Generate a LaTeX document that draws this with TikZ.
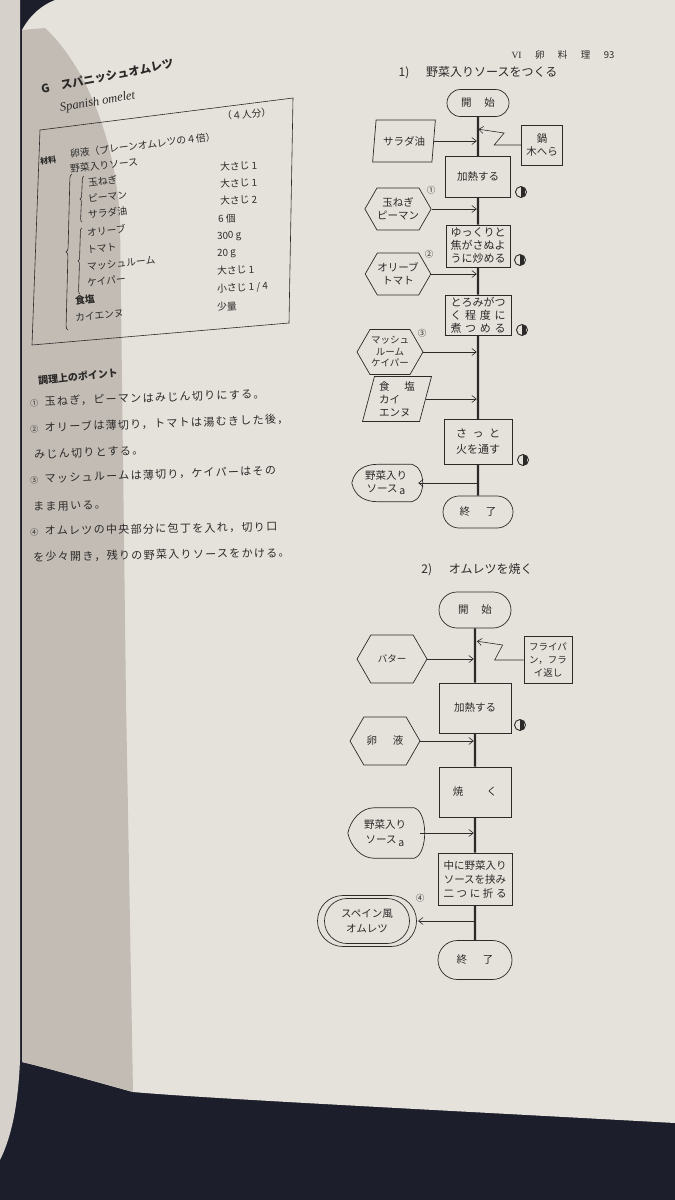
\documentclass[tikz,border=0pt]{standalone}
\usepackage{fontspec}
\setmainfont{Liberation Serif}
\newfontfamily\jp{Noto Sans CJK JP}
\newfontfamily\jpw{Noto Sans CJK JP}[LetterSpace=12]
\usetikzlibrary{shapes.geometric,shapes.misc,shapes.symbols,arrows.meta,calc,decorations.pathreplacing}
\definecolor{paper}{RGB}{229,225,219}
\definecolor{dusk}{RGB}{194,188,181}
\definecolor{leaf}{RGB}{214,210,203}
\definecolor{cloth}{RGB}{28,30,44}
\definecolor{ink}{RGB}{44,42,41}
\newcommand\spread[2]{\makebox[#1][s]{#2}}
\newcommand\dispath[1]{(#1.west) .. controls ($(#1.west)+(3,-14)$) and ($(#1.north west)+(14,0)$) .. ($(#1.north west)+(26,0)$) -- ($(#1.north east)+(-8,0)$) .. controls ($(#1.north east)+(6,4)$) and ($(#1.south east)+(6,-4)$) .. ($(#1.south east)+(-8,0)$) -- ($(#1.south west)+(26,0)$) .. controls ($(#1.south west)+(14,0)$) and ($(#1.west)+(3,14)$) .. (#1.west)}

\begin{document}
\begin{tikzpicture}[x=1pt, y=-1pt,
    txt/.style={font=\jp\fontsize{10.5}{13}\selectfont, text=ink, align=center, inner sep=0pt},
    term/.style={txt, rounded rectangle, draw=ink, fill=paper, line width=.7pt},
    proc/.style={txt, rectangle, draw=ink, fill=paper, line width=.7pt},
    prep/.style={txt, signal, signal to=east and west, signal pointer angle=120, draw=ink, fill=paper, line width=.7pt},
    dat/.style={txt, trapezium, trapezium left angle=75, trapezium right angle=105, trapezium stretches=true, draw=ink, fill=paper, line width=.7pt},
    spine/.style={draw=ink, line width=2.4pt},
    flow/.style={draw=ink, line width=.6pt, -{Straight Barb[length=4.5pt,width=7pt]}, shorten >=1.2pt},
    hmark/.style={circle, draw=ink, line width=.9pt, minimum size=11pt, inner sep=0pt,
      path picture={\fill[ink] ([xshift=-.5pt]path picture bounding box.south) rectangle ([xshift=4pt]path picture bounding box.north);}},
    num/.style={font=\jp\fontsize{8.5}{8.5}\selectfont, text=ink, inner sep=0pt},
    ttl/.style={font=\jp\fontsize{12}{12}\selectfont, text=ink, inner sep=0pt},
    lt/.style={font=\jp\fontsize{9.8}{9.8}\selectfont, text=ink, inner sep=0pt, anchor=west},
    bd/.style={font=\jpw\fontsize{11}{11}\selectfont, text=ink, inner sep=0pt, anchor=west}
  ]
  \useasboundingbox (0,0) rectangle (675,1200);
  % photo: cloth, facing page, page, shadow
  \fill[cloth] (0,0) rectangle (675,1200);
  \fill[leaf] (0,0) -- (20,0) -- (20,1060) .. controls (18,1110) and (10,1140) .. (0,1160) -- cycle;
  \fill[paper] (55,0) -- (675,0) -- (675,1123) .. controls (400,1108) and (200,1098) .. (133,1092)
    .. controls (90,1080) and (40,1066) .. (22,1062) -- (22,30) .. controls (30,15) and (42,5) .. (55,0) -- cycle;
  \fill[dusk] (22,30) -- (45,28) .. controls (80,60) and (115,130) .. (120,220) -- (126,700) -- (133,1092)
    .. controls (90,1080) and (40,1066) .. (22,1062) -- cycle;

  % recipe, left column
  \node[lt, rotate=11, font=\jp\bfseries\fontsize{11.5}{11.5}\selectfont] (gt) at (41,89) {G\hspace{1em}スパニッシュオムレツ};
  \node[anchor=west, rotate=10, font=\itshape\fontsize{12.5}{12.5}\selectfont, text=ink, inner sep=0pt] (en) at (60,109) {Spanish omelet};
  \draw[ink, line width=.6pt] (40,130) -- (293,98) -- (289,323) -- (32,345) -- cycle;
  \node[lt, rotate=4] (ppl) at (222,116) {（４人分）};
  \node[lt, rotate=7, font=\jp\bfseries\fontsize{8}{8}\selectfont] (zr) at (40,161) {材料};
  \node[lt, rotate=7] (z1) at (70,154) {卵液（プレーンオムレツの４倍）};
  \node[lt, rotate=6] (z2) at (70,169) {野菜入りソース};
  \node[lt, rotate=7] (z3) at (88,183) {玉ねぎ};
  \node[lt, rotate=7] (z4) at (88,199) {ピーマン};
  \node[lt, rotate=7] (z5) at (88,215) {サラダ油};
  \node[lt, rotate=6] (z6) at (87,233) {オリーブ};
  \node[lt, rotate=6] (z7) at (87,250) {トマト};
  \node[lt, rotate=6] (z8) at (87,267) {マッシュルーム};
  \node[lt, rotate=6] (z9) at (87,283) {ケイパー};
  \node[lt, rotate=6, font=\jp\bfseries\fontsize{9.8}{9.8}\selectfont] (z10) at (75,301) {食塩};
  \node[lt, rotate=6] (z11) at (75,318) {カイエンヌ};
  \node[lt, rotate=3] (w1) at (220,167) {大さじ 1};
  \node[lt, rotate=3] (w2) at (220,184) {大さじ 1};
  \node[lt, rotate=3] (w3) at (220,201) {大さじ 2};
  \node[lt, rotate=3] (w4) at (218,219) {6 個};
  \node[lt, rotate=3] (w5) at (217,237) {300 g};
  \node[lt, rotate=3] (w6) at (217,254) {20 g};
  \node[lt, rotate=3] (w7) at (217,271) {大さじ 1};
  \node[lt, rotate=3] (w8) at (217,289) {小さじ 1 / 4};
  \node[lt, rotate=3] (w9) at (217,307) {少量};
  \draw[ink, line width=.6pt, decorate, decoration={brace, amplitude=3pt}] (82,222) -- (84,176);
  \draw[ink, line width=.6pt, decorate, decoration={brace, amplitude=3pt}] (80,294) -- (82,228);
  \draw[ink, line width=.6pt, decorate, decoration={brace, amplitude=4pt}] (68,330) -- (72,174);

  \node[lt, rotate=6, font=\jp\bfseries\fontsize{10}{10}\selectfont] (k0) at (38,381) {調理上のポイント};
  \node[bd, rotate=2] (k1) at (30,402) {{\fontsize{8}{8}\selectfont ①}\hspace{.6em}玉ねぎ，ピーマンはみじん切りにする。};
  \node[bd, rotate=2] (k2) at (30,428) {{\fontsize{8}{8}\selectfont ②}\hspace{.6em}オリーブは薄切り，トマトは湯むきした後，};
  \node[bd, rotate=2.5] (k3) at (34,455) {みじん切りとする。};
  \node[bd, rotate=2] (k4) at (30,479) {{\fontsize{8}{8}\selectfont ③}\hspace{.6em}マッシュルームは薄切り，ケイパーはその};
  \node[bd, rotate=2] (k5) at (33,507) {まま用いる。};
  \node[bd, rotate=1] (k6) at (30,531) {{\fontsize{8}{8}\selectfont ④}\hspace{.6em}オムレツの中央部分に包丁を入れ，切り口};
  \node[bd, rotate=1] (k7) at (33,557) {を少々開き，残りの野菜入りソースをかける。};

  \node[txt, font=\jp\fontsize{9.5}{9.5}\selectfont] (pg) at (563,55) {\spread{103pt}{{\rmfamily VI}\hfill 卵\hfill 料\hfill 理\hfill 93}};

  % 1) sauce
  \begin{scope}
    \node[ttl] (h1) at (478,73) {1)\hspace{1.4em}野菜入りソースをつくる};
    \node[term, minimum width=62pt, minimum height=27pt] (a0) at (478,103) {開\hspace{1.2em}始};
    \node[proc, minimum width=65pt, minimum height=41pt] (a1) at (478,177) {加熱する};
    \node[proc, minimum width=64pt, minimum height=42pt, font=\jp\fontsize{11}{13}\selectfont] (a2) at (478,246) {ゆっくりと\\焦がさぬよ\\うに炒める};
    \node[proc, minimum width=66pt, minimum height=40pt, font=\jp\fontsize{11}{13}\selectfont] (a3) at (478,315) {とろみがつ\\\spread{55pt}{く\hfill 程\hfill 度\hfill に}\\\spread{55pt}{煮\hfill つ\hfill め\hfill る}};
    \node[proc, minimum width=68pt, minimum height=45pt, font=\jp\fontsize{11}{16}\selectfont] (a4) at (478,442) {\spread{44pt}{さ\hfill っ\hfill と}\\火を通す};
    \node[term, minimum width=70pt, minimum height=32pt] (a5) at (478,512) {終\hspace{1.5em}了};
    \draw[spine] (a0) -- (a1) -- (a2) -- (a3) -- (a4) -- (a5);
    \node[dat, minimum width=63pt, minimum height=42pt] (s1) at (404,141) {サラダ油};
    \node[proc, minimum width=41pt, minimum height=40pt] (r1) at (542,145) {鍋\\木へら};
    \node[prep, minimum width=63pt, minimum height=42pt] (p1) at (398,209) {玉ねぎ\\ピーマン};
    \node[prep, minimum width=63pt, minimum height=42pt] (p2) at (398,274) {オリーブ\\トマト};
    \node[prep, minimum width=66pt, minimum height=45pt, font=\jp\fontsize{9.5}{11.5}\selectfont] (p3) at (390,352) {マッシュ\\ルーム\\ケイパー};
    \node[dat, minimum width=69pt, minimum height=45pt, align=left] (s2) at (397,399) {食\hspace{1.4em}塩\\カイ\\エンヌ};
    \node[txt, minimum width=68pt, minimum height=37pt] (d1) at (386,483) {野菜入り\\ソース\,\raisebox{-2pt}{a}};
    \draw[ink, line width=.7pt] \dispath{d1};
    \node[num] (n1) at (431,190) {①};
    \node[num] (n2) at (429,254) {②};
    \node[num] (n3) at (422,333) {③};
    \node[hmark] (m1) at (521,192) {};
    \node[hmark] (m2) at (520,260) {};
    \node[hmark] (m3) at (522,330) {};
    \node[hmark] (m4) at (523,460) {};
    \draw[flow] (s1.east) -- (s1.east -| a0);
    \draw[flow] (r1.west) -- ++(-27,0) -- ++(10,-12) -- ++(-27,-4);
    \draw[flow] (p1.east) -- (p1.east -| a0);
    \draw[flow] (p2.east) -- (p2.east -| a0);
    \draw[flow] (p3.east) -- (p3.east -| a0);
    \draw[flow] (s2.east) -- (s2.east -| a0);
    \draw[flow, shorten >=-2pt] (d1.east -| a0) -- (d1.east);
  \end{scope}

  % 2) omelet
  \begin{scope}
    \node[ttl] (h2) at (477,570) {2)\hspace{1.4em}オムレツを焼く};
    \node[term, minimum width=72pt, minimum height=36pt] (b0) at (475,610) {開\hspace{1.2em}始};
    \node[proc, minimum width=72pt, minimum height=50pt] (b1) at (475,708) {加熱する};
    \node[proc, minimum width=72pt, minimum height=50pt] (b2) at (475,792) {焼\hspace{2.2em}く};
    \node[proc, minimum width=74pt, minimum height=52pt, font=\jp\fontsize{10.5}{14}\selectfont] (b3) at (475,879) {中に野菜入り\\ソースを挟み\\\spread{63pt}{二\hfill つ\hfill に\hfill 折\hfill る}};
    \node[term, minimum width=74pt, minimum height=39pt] (b4) at (475,960) {終\hspace{1.5em}了};
    \draw[spine] (b0) -- (b1) -- (b2) -- (b3) -- (b4);
    \node[prep, minimum width=70pt, minimum height=48pt, font=\jp\fontsize{9.5}{9.5}\selectfont] (q1) at (392,659) {バター};
    \node[proc, minimum width=48pt, minimum height=47pt, font=\jp\fontsize{9.5}{13}\selectfont] (r2) at (548,660) {フライパ\\ン，フラ\\イ返し};
    \node[prep, minimum width=70pt, minimum height=48pt] (q2) at (385,741) {卵\hspace{1.5em}液};
    \node[txt, minimum width=74pt, minimum height=50pt, font=\jp\fontsize{10.5}{15}\selectfont] (d2) at (385,833) {野菜入り\\ソース\,\raisebox{-3pt}{a}};
    \draw[ink, line width=.7pt] \dispath{d2};
    \node[term, minimum width=99pt, minimum height=51pt] (o1) at (367,921) {};
    \node[term, minimum width=85pt, minimum height=45pt, font=\jp\fontsize{10.5}{15}\selectfont] (o2) at (367,921) {スペイン風\\オムレツ};
    \node[num] (n4) at (420,898) {④};
    \node[hmark] (m5) at (520,725) {};
    \draw[flow] (q1.east) -- (q1.east -| b0);
    \draw[flow] (r2.west) -- ++(-29,0) -- ++(8,-15) -- ++(-27,-4);
    \draw[flow] (q2.east) -- (q2.east -| b0);
    \draw[flow, shorten <=-2pt] (d2.east) -- (d2.east -| b0);
    \draw[flow] (o1.east -| b0) -- (o1.east);
  \end{scope}
\end{tikzpicture}
\end{document}
